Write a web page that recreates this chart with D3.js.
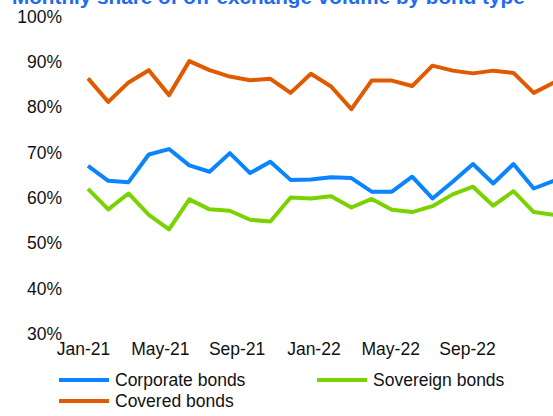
<!DOCTYPE html>
<html><head><meta charset="utf-8">
<script src="https://cdn.jsdelivr.net/npm/d3@7"></script>
<style>body{margin:0;background:#fff}svg{display:block;font-family:Arial,"Liberation Sans",sans-serif}</style>
</head><body><svg id="c" width="553" height="416"></svg>
<script>
const months = ["Jan-21","Feb-21","Mar-21","Apr-21","May-21","Jun-21","Jul-21","Aug-21","Sep-21","Oct-21","Nov-21","Dec-21",
                "Jan-22","Feb-22","Mar-22","Apr-22","May-22","Jun-22","Jul-22","Aug-22","Sep-22","Oct-22","Nov-22","Dec-22"];
const tickLabels = ["Jan-21","May-21","Sep-21","Jan-22","May-22","Sep-22"];
const yTicks = [30,40,50,60,70,80,90,100];
const corporate = [67.1,63.8,63.5,69.6,70.8,67.2,65.8,69.9,65.5,68.0,64.0,64.1,64.6,64.4,61.4,61.4,64.7,59.9,63.6,67.5,63.2,67.5,62.1,63.8];
const sovereign = [62.0,57.5,61.0,56.3,53.1,59.7,57.5,57.2,55.2,54.8,60.1,59.9,60.4,57.9,59.8,57.4,56.9,58.2,60.8,62.5,58.3,61.5,56.9,56.3];
const covered   = [86.4,81.2,85.5,88.2,82.7,90.2,88.2,86.8,86.0,86.3,83.2,87.4,84.6,79.6,85.9,85.9,84.7,89.2,88.1,87.5,88.1,87.6,83.2,85.5];
const seriesNames = ["Corporate bonds","Sovereign bonds","Covered bonds"];
const colors = ["#0A84FF","#7AD300","#E05A00"];
const title = "Monthly share of off-exchange volume by bond type";

const svg = d3.select("#c");
const x = d3.scaleLinear().domain([0, months.length-1]).range([88, 554]);
const xLab = d3.scaleLinear().domain([0, months.length-1]).range([83, 83+23*19.2]);
const y = d3.scaleLinear().domain([30,100]).range([334,16.7]);

svg.append("text").attr("x",12).attr("y",4).attr("font-size",20.7).attr("font-weight","bold")
  .attr("fill","#1f6bf0").text(title);

const yAxis = d3.axisLeft(y).tickValues(yTicks).tickFormat(d=>d+"%").tickSize(0).tickPadding(0);
const ga = svg.append("g").attr("transform","translate(62,0)").call(yAxis);
ga.select(".domain").remove();
ga.selectAll("text").attr("font-size",17.5).attr("fill","#111").attr("font-family","Arial, 'Liberation Sans', sans-serif");

const xAxis = d3.axisBottom(xLab).tickValues(tickLabels.map(t=>months.indexOf(t)))
  .tickFormat(i=>months[i]).tickSize(0).tickPadding(0);
const gx = svg.append("g").attr("transform","translate(0,343)").call(xAxis);
gx.select(".domain").remove();
gx.selectAll("text").attr("font-size",17.5).attr("fill","#111").attr("font-family","Arial, 'Liberation Sans', sans-serif");

const line = d3.line().x((d,i)=>x(i)).y(d=>y(d));
[corporate, sovereign, covered].forEach((s,k)=>{
  svg.append("path").datum(s).attr("d",line).attr("fill","none")
    .attr("stroke",colors[k]).attr("stroke-width",4).attr("stroke-linejoin","round");
});

const legPos = [[59,380],[317,380],[59,401]];
seriesNames.forEach((n,k)=>{
  const [lx,ly] = legPos[k];
  svg.append("line").attr("x1",lx).attr("x2",lx+50).attr("y1",ly).attr("y2",ly)
    .attr("stroke",colors[k]).attr("stroke-width",4);
  svg.append("text").attr("x",lx+56).attr("y",ly).attr("dy","0.35em").attr("font-size",17.5)
    .attr("fill","#111").text(n);
});
</script></body></html>
